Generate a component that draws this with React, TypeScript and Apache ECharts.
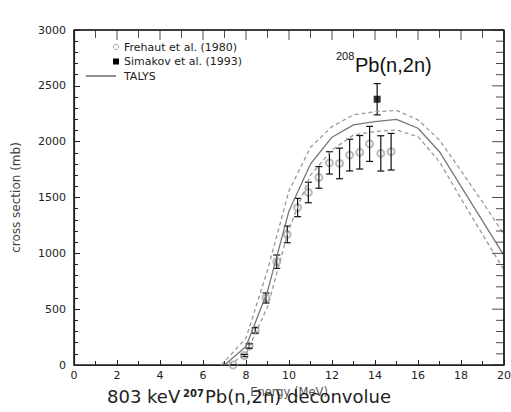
import React, { useEffect, useRef } from "react";
import * as echarts from "echarts";

// TALYS calculation (solid) and its uncertainty band (dashed)
const talysE = [7.0, 8, 9, 10, 11, 12, 13, 14, 15, 16, 17, 18, 19, 20];
const talys = [0, 165, 660, 1380, 1800, 2040, 2150, 2180, 2200, 2120, 1910, 1600, 1290, 980];
const upperE = [6.85, 8, 9, 10, 11, 12, 13, 14, 15, 16, 17, 18, 19, 20];
const upper = [0, 240, 850, 1560, 1950, 2135, 2240, 2268, 2280, 2195, 2015, 1740, 1460, 1170];
const lowerE = [7.2, 8, 9, 10, 11, 12, 13, 14, 15, 16, 17, 18, 19, 20];
const lower = [0, 100, 520, 1220, 1700, 1925, 2060, 2090, 2104, 2045, 1820, 1490, 1170, 850];

// Frehaut et al. (1980)
const frehautE = [7.4, 7.92, 8.15, 8.43, 8.93, 9.43, 9.92, 10.4, 10.9, 11.39, 11.88, 12.35, 12.82, 13.29, 13.75, 14.27, 14.75];
const frehautY = [0, 85, 170, 310, 600, 925, 1170, 1410, 1545, 1680, 1810, 1805, 1880, 1905, 1980, 1895, 1910];
const frehautErr = [0, 10, 20, 25, 45, 60, 75, 82, 92, 97, 100, 137, 142, 150, 157, 158, 164];

// Simakov et al. (1993)
const simakovE = [14.1];
const simakovY = [2380];
const simakovErr = [140];

const xTicks = [0, 2, 4, 6, 8, 10, 12, 14, 16, 18, 20];
const yTicks = [0, 500, 1000, 1500, 2000, 2500, 3000];
const xMinorStep = 1;
const yMinorStep = 100;

const FONT = "DejaVu Sans";
const X_MIN = xTicks[0];
const X_MAX = xTicks[xTicks.length - 1];
const Y_MIN = yTicks[0];
const Y_MAX = yTicks[yTicks.length - 1];

function errorBarItem(params: any, api: any) {
  const x = api.value(0);
  const lo = api.value(2);
  const hi = api.value(3);
  const p1 = api.coord([x, lo]);
  const p2 = api.coord([x, hi]);
  const cap = 3.5;
  const style = { stroke: "#111", lineWidth: 1.2 };
  return {
    type: "group",
    children: [
      { type: "line", shape: { x1: p1[0], y1: p1[1], x2: p2[0], y2: p2[1] }, style },
      { type: "line", shape: { x1: p1[0] - cap, y1: p1[1], x2: p1[0] + cap, y2: p1[1] }, style },
      { type: "line", shape: { x1: p2[0] - cap, y1: p2[1], x2: p2[0] + cap, y2: p2[1] }, style },
    ],
  };
}

export default function App() {
  const ref = useRef<HTMLDivElement>(null);
  useEffect(() => {
    if (!ref.current) return;
    const chart = echarts.init(ref.current, null, { renderer: "svg" });
    const pair = (xs: number[], ys: number[]) => xs.map((x, i) => [x, ys[i]]);
    const errData = (xs: number[], ys: number[], es: number[]) =>
      xs.map((x, i) => [x, ys[i], ys[i] - es[i], ys[i] + es[i]]);

    // tick positions along the top and right edges of the frame
    const topMinor: number[][] = [];
    const topMajor: number[][] = [];
    for (let v = X_MIN; v <= X_MAX + 1e-9; v += xMinorStep) {
      (xTicks.indexOf(v) >= 0 ? topMajor : topMinor).push([v, Y_MAX]);
    }
    const rightMinor: number[][] = [];
    const rightMajor: number[][] = [];
    for (let v = Y_MIN; v <= Y_MAX + 1e-9; v += yMinorStep) {
      (yTicks.indexOf(v) >= 0 ? rightMajor : rightMinor).push([X_MAX, v]);
    }
    const tickSeries = (data: number[][], size: number[], offset: number[]) => ({
      type: "scatter",
      data,
      symbol: "rect",
      symbolSize: size,
      symbolOffset: offset,
      clip: false,
      silent: true,
      itemStyle: { color: "#222" },
      z: 6,
    });

    chart.setOption({
      animation: false,
      grid: {
        left: 74, top: 30, right: 7, bottom: 47,
        outerBoundsMode: "none", containLabel: false,
        show: true, borderColor: "#222", borderWidth: 1.2,
      },
      xAxis: {
        type: "value",
        min: X_MIN,
        max: X_MAX,
        interval: 2,
        splitLine: { show: false },
        axisLine: { show: true, onZero: false, lineStyle: { color: "#222", width: 1.2 } },
        axisTick: { show: true, inside: true, length: 5, lineStyle: { color: "#222" } },
        minorTick: { show: true, splitNumber: 2, length: 4, lineStyle: { color: "#222" } },
        axisLabel: { fontFamily: FONT, fontSize: 11, color: "#222", margin: 5, formatter: (v: number) => String(v) },
        name: "Energy (MeV)",
        nameLocation: "middle",
        nameGap: 20,
        nameTextStyle: { fontFamily: FONT, fontSize: 11.5, color: "#555" },
      },
      yAxis: {
        type: "value",
        min: Y_MIN,
        max: Y_MAX,
        interval: 500,
        splitLine: { show: false },
        axisLine: { show: true, onZero: false, lineStyle: { color: "#222", width: 1.2 } },
        axisTick: { show: true, inside: true, length: 6, lineStyle: { color: "#222" } },
        minorTick: { show: true, splitNumber: 5, length: 4, lineStyle: { color: "#222" } },
        axisLabel: { fontFamily: FONT, fontSize: 11, color: "#222", margin: 8, formatter: (v: number) => String(v) },
        name: "cross section (mb)",
        nameLocation: "middle",
        nameGap: 52,
        nameTextStyle: { fontFamily: FONT, fontSize: 12, color: "#444" },
      },
      series: [
        {
          name: "frame",
          type: "line",
          data: [[X_MIN, Y_MAX], [X_MAX, Y_MAX], [X_MAX, Y_MIN]],
          symbol: "none",
          clip: false,
          silent: true,
          lineStyle: { color: "#222", width: 1.2 },
          z: 6,
        },
        tickSeries(topMajor, [1, 10], [0, 5]),
        tickSeries(topMinor, [1, 8], [0, 4]),
        tickSeries(rightMajor, [12, 1], [-6, 0]),
        tickSeries(rightMinor, [8, 1], [-4, 0]),
        {
          name: "TALYS upper",
          type: "line",
          data: pair(upperE, upper),
          symbol: "none",
          lineStyle: { color: "#999", width: 1.3, type: [4, 3] },
        },
        {
          name: "TALYS lower",
          type: "line",
          data: pair(lowerE, lower),
          symbol: "none",
          lineStyle: { color: "#999", width: 1.3, type: [4, 3] },
        },
        {
          name: "TALYS",
          type: "line",
          data: pair(talysE, talys),
          symbol: "none",
          lineStyle: { color: "#777", width: 1.3 },
        },
        {
          name: "Frehaut et al. (1980)",
          type: "scatter",
          data: pair(frehautE, frehautY),
          symbol: "emptyCircle",
          symbolSize: 7,
          clip: false,
          itemStyle: { color: "#aaa", borderColor: "#aaa", borderWidth: 1 },
        },
        {
          name: "Frehaut err",
          type: "custom",
          renderItem: errorBarItem,
          data: errData(frehautE, frehautY, frehautErr),
          encode: { x: 0, y: [1, 2, 3] },
          z: 3,
        },
        {
          name: "Simakov err",
          type: "custom",
          renderItem: errorBarItem,
          data: errData(simakovE, simakovY, simakovErr),
          encode: { x: 0, y: [1, 2, 3] },
          z: 3,
        },
        {
          name: "Simakov et al. (1993)",
          type: "scatter",
          data: pair(simakovE, simakovY),
          symbol: "rect",
          symbolSize: 7,
          itemStyle: { color: "#000" },
          z: 4,
        },
      ],
      graphic: [
        { type: "rect", shape: { x: 74, y: 30, width: 430, height: 335 }, style: { fill: "none", stroke: "#222", lineWidth: 1 } },
        // legend
        { type: "circle", shape: { cx: 116, cy: 47, r: 2.6 }, style: { fill: "none", stroke: "#aaa", lineWidth: 1 } },
        { type: "text", x: 124, y: 47, style: { text: "Frehaut et al. (1980)", fontFamily: FONT, fontSize: 11, fill: "#222", verticalAlign: "middle" } },
        { type: "rect", shape: { x: 113, y: 58.5, width: 6, height: 6 }, style: { fill: "#000" } },
        { type: "text", x: 124, y: 61.5, style: { text: "Simakov et al. (1993)", fontFamily: FONT, fontSize: 11, fill: "#222", verticalAlign: "middle" } },
        { type: "line", shape: { x1: 86, y1: 76, x2: 116, y2: 76 }, style: { stroke: "#222", lineWidth: 1 } },
        { type: "text", x: 124, y: 76, style: { text: "TALYS", fontFamily: FONT, fontSize: 11, fill: "#222", verticalAlign: "middle" } },
        // reaction label
        { type: "text", x: 336, y: 56, style: { text: "208", fontFamily: "Liberation Sans", fontSize: 11, fill: "#111", verticalAlign: "middle" } },
        { type: "text", x: 355, y: 65, style: { text: "Pb(n,2n)", fontFamily: "Liberation Sans", fontSize: 20, fill: "#111", verticalAlign: "middle" } },
        // caption
        { type: "text", x: 107, y: 405, z: 10, style: { text: "803 keV", fontFamily: FONT, fontSize: 18, fill: "#222", verticalAlign: "bottom" } },
        { type: "text", x: 183, y: 388, z: 10, style: { text: "207", fontFamily: FONT, fontSize: 10, fontWeight: "bold", fill: "#222", verticalAlign: "top" } },
        { type: "text", x: 205, y: 405, z: 10, style: { text: "Pb(n,2n) deconvolue", fontFamily: FONT, fontSize: 18, fill: "#222", verticalAlign: "bottom" } },
      ],
    });
    return () => chart.dispose();
  }, []);
  return <div ref={ref} style={{ width: 511, height: 412, position: "absolute", left: 0, top: 0 }} />;
}
